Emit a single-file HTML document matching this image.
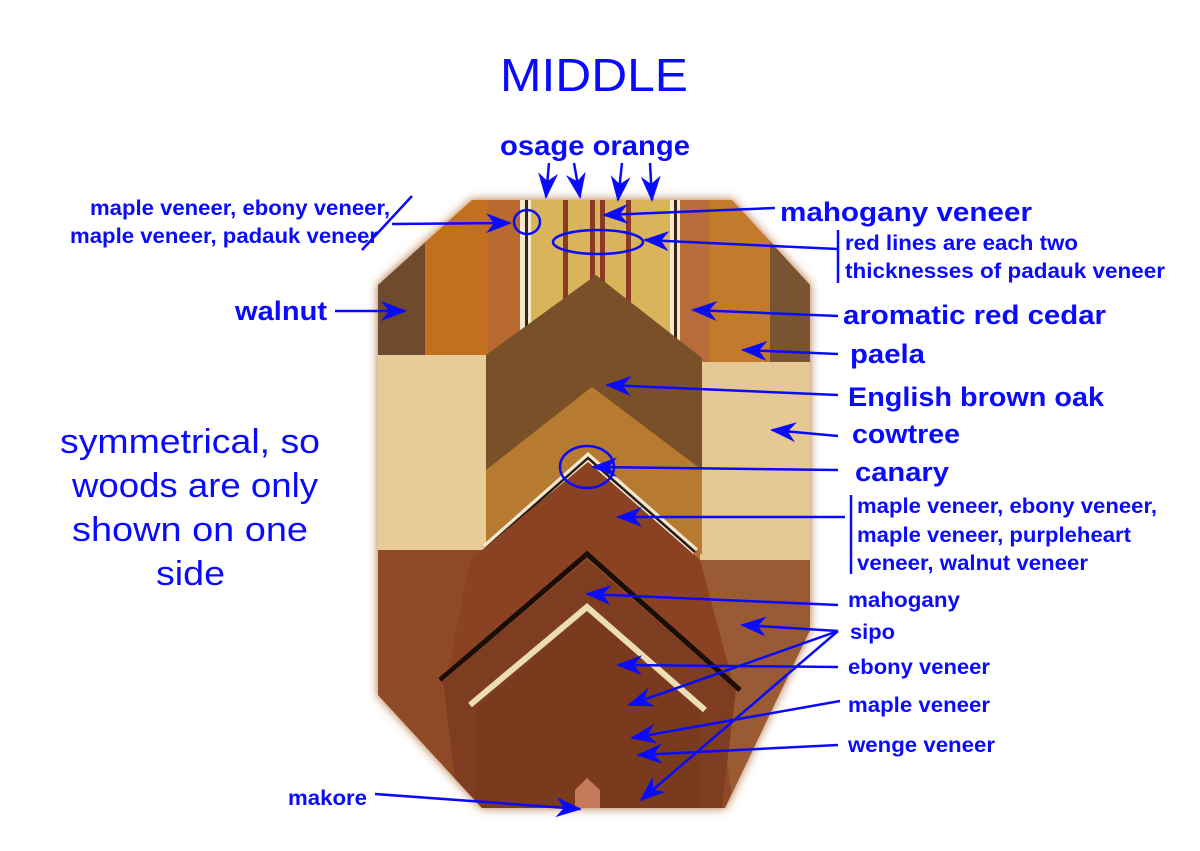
<!DOCTYPE html>
<html><head><meta charset="utf-8"><style>
html,body{margin:0;padding:0;background:#fff;}
svg{display:block}
text{font-family:"Liberation Sans",Arial,sans-serif;fill:#0a0aff;font-weight:bold;}
</style></head><body>
<svg width="1200" height="851" viewBox="0 0 1200 851" xmlns="http://www.w3.org/2000/svg">
<defs>
<clipPath id="oct"><polygon points="472,200 732,200 810,285 810,630 725,808 482,808 378,695 378,285"/></clipPath>
<filter id="bl" x="-10%" y="-10%" width="120%" height="120%"><feGaussianBlur stdDeviation="5"/></filter>
<marker id="ah2" markerWidth="26" markerHeight="20" refX="24" refY="10" orient="auto" markerUnits="userSpaceOnUse" viewBox="0 0 26 20">
<path d="M0,0 L26,10 L0,20 L8,10 Z" fill="#0a0aff"/></marker>
</defs>

<g filter="url(#bl)"><polygon points="472,200 732,200 810,285 810,630 725,808 482,808 378,695 378,285" fill="#b06a36"/></g>
<g clip-path="url(#oct)">
 <rect x="370" y="190" width="60" height="210" fill="#6e4a2e"/>
 <rect x="765" y="190" width="50" height="210" fill="#7a5330"/>
 <rect x="425" y="190" width="65" height="210" fill="#c2701e"/>
 <rect x="488" y="190" width="32" height="210" fill="#b96a30"/>
 <rect x="680" y="190" width="90" height="210" fill="#c47a2c"/>
 <rect x="680" y="190" width="30" height="210" fill="#b86c3a"/>
 <rect x="520" y="190" width="160" height="210" fill="#d9b45a"/>
 <rect x="520" y="200" width="5" height="200" fill="#f4ead0"/><rect x="525" y="200" width="3" height="200" fill="#3a2418"/><rect x="528" y="200" width="3" height="200" fill="#f4ead0"/>
 <rect x="670" y="200" width="4" height="200" fill="#f4ead0"/><rect x="674" y="200" width="3" height="200" fill="#3a2418"/><rect x="677" y="200" width="3" height="200" fill="#f4ead0"/>
 <rect x="563" y="200" width="5" height="200" fill="#8a3a22"/>
 <rect x="590" y="200" width="5" height="200" fill="#8a3a22"/><rect x="600" y="200" width="5" height="200" fill="#8a3a22"/>
 <rect x="626" y="200" width="5" height="200" fill="#8a3a22"/>
 <rect x="370" y="355" width="118" height="210" fill="#e8cc98"/>
 <rect x="700" y="362" width="115" height="210" fill="#e6c894"/>
 <polygon points="596,275 702,358 702,470 592,387 486,470 486,355" fill="#7a5028"/>
 <polygon points="592,387 702,470 702,555 588,457 486,550 486,470" fill="#b67a30"/>
 <polyline points="486,548 588,458 695,552" fill="none" stroke="#f2e8d0" stroke-width="9"/>
 <polyline points="486,548 588,458 695,552" fill="none" stroke="#2a1a12" stroke-width="2.5"/>
 <polygon points="370,550 486,550 588,462 700,560 815,560 815,820 370,820" fill="#8e4a26"/>
 <polygon points="700,560 815,560 815,820 735,820" fill="#9a5a34"/>
 <polygon points="588,462 700,560 735,690 587,556 448,672 470,560" fill="#8a4222"/>
 <polyline points="440,680 587,554 740,690" fill="none" stroke="#1a0e08" stroke-width="5"/>
 <polygon points="587,560 736,690 720,820 460,820 443,680" fill="#7e3c20"/>
 <polyline points="470,705 587,607 705,710" fill="none" stroke="#ecdcb8" stroke-width="6"/>
 <polygon points="587,612 700,712 700,820 475,820 475,710" fill="#7a3a1e"/>
 <polygon points="575,790 587,778 600,790 600,820 575,820" fill="#c47a5a"/>
</g>

<g stroke="#0a0aff" stroke-width="2.5" fill="none">
 <line x1="549" y1="163" x2="546" y2="197" marker-end="url(#ah2)"/>
 <line x1="574" y1="163" x2="580" y2="197" marker-end="url(#ah2)"/>
 <line x1="622" y1="163" x2="618" y2="200" marker-end="url(#ah2)"/>
 <line x1="650" y1="163" x2="652" y2="200" marker-end="url(#ah2)"/>
 <line x1="412" y1="196" x2="362" y2="250"/>
 <line x1="392" y1="224" x2="510" y2="223" marker-end="url(#ah2)"/>
 <ellipse cx="527" cy="222" rx="13" ry="12"/>
 <line x1="775" y1="208" x2="604" y2="215" marker-end="url(#ah2)"/>
 <ellipse cx="598" cy="242" rx="45" ry="12"/>
 <line x1="838" y1="249" x2="645" y2="240" marker-end="url(#ah2)"/>
 <line x1="838" y1="230" x2="838" y2="283"/>
 <line x1="335" y1="311" x2="405" y2="311" marker-end="url(#ah2)"/>
 <line x1="838" y1="316" x2="693" y2="310" marker-end="url(#ah2)"/>
 <line x1="838" y1="354" x2="743" y2="350" marker-end="url(#ah2)"/>
 <line x1="838" y1="395" x2="607" y2="385" marker-end="url(#ah2)"/>
 <line x1="838" y1="436" x2="772" y2="430" marker-end="url(#ah2)"/>
 <line x1="838" y1="470" x2="593" y2="467" marker-end="url(#ah2)"/>
 <ellipse cx="587" cy="467" rx="27" ry="21"/>
 <line x1="845" y1="517" x2="618" y2="517" marker-end="url(#ah2)"/>
 <line x1="851" y1="495" x2="851" y2="574"/>
 <line x1="838" y1="605" x2="587" y2="594" marker-end="url(#ah2)"/>
 <line x1="838" y1="631" x2="742" y2="625" marker-end="url(#ah2)"/>
 <line x1="838" y1="631" x2="629" y2="705" marker-end="url(#ah2)"/>
 <line x1="838" y1="631" x2="641" y2="800" marker-end="url(#ah2)"/>
 <line x1="838" y1="667" x2="618" y2="665" marker-end="url(#ah2)"/>
 <line x1="840" y1="701" x2="632" y2="738" marker-end="url(#ah2)"/>
 <line x1="838" y1="745" x2="638" y2="755" marker-end="url(#ah2)"/>
 <line x1="375" y1="794" x2="580" y2="809" marker-end="url(#ah2)"/>
</g>

<g style="font-weight:normal">
<text x="500" y="91" font-size="46" textLength="188" lengthAdjust="spacingAndGlyphs" style="font-weight:normal">MIDDLE</text>
</g>
<text x="500" y="155" font-size="28" textLength="190" lengthAdjust="spacingAndGlyphs">osage orange</text>
<text x="90" y="215" font-size="21" textLength="300" lengthAdjust="spacingAndGlyphs">maple veneer, ebony veneer,</text>
<text x="70" y="243" font-size="21" textLength="308" lengthAdjust="spacingAndGlyphs">maple veneer, padauk veneer</text>
<text x="780" y="221" font-size="27" textLength="252" lengthAdjust="spacingAndGlyphs">mahogany veneer</text>
<text x="845" y="250" font-size="21" textLength="233" lengthAdjust="spacingAndGlyphs">red lines are each two</text>
<text x="845" y="278" font-size="21" textLength="320" lengthAdjust="spacingAndGlyphs">thicknesses of padauk veneer</text>
<text x="235" y="320" font-size="27" textLength="92" lengthAdjust="spacingAndGlyphs">walnut</text>
<text x="843" y="324" font-size="27" textLength="263" lengthAdjust="spacingAndGlyphs">aromatic red cedar</text>
<text x="850" y="363" font-size="27" textLength="75" lengthAdjust="spacingAndGlyphs">paela</text>
<text x="848" y="406" font-size="27" textLength="256" lengthAdjust="spacingAndGlyphs">English brown oak</text>
<text x="852" y="443" font-size="27" textLength="108" lengthAdjust="spacingAndGlyphs">cowtree</text>
<text x="855" y="481" font-size="27" textLength="94" lengthAdjust="spacingAndGlyphs">canary</text>
<text x="857" y="513" font-size="21" textLength="300" lengthAdjust="spacingAndGlyphs">maple veneer, ebony veneer,</text>
<text x="857" y="542" font-size="21" textLength="274" lengthAdjust="spacingAndGlyphs">maple veneer, purpleheart</text>
<text x="857" y="570" font-size="21" textLength="231" lengthAdjust="spacingAndGlyphs">veneer, walnut veneer</text>
<text x="848" y="607" font-size="21" textLength="112" lengthAdjust="spacingAndGlyphs">mahogany</text>
<text x="850" y="639" font-size="21" textLength="45" lengthAdjust="spacingAndGlyphs">sipo</text>
<text x="848" y="674" font-size="21" textLength="142" lengthAdjust="spacingAndGlyphs">ebony veneer</text>
<text x="848" y="712" font-size="21" textLength="142" lengthAdjust="spacingAndGlyphs">maple veneer</text>
<text x="848" y="752" font-size="21" textLength="147" lengthAdjust="spacingAndGlyphs">wenge veneer</text>
<text x="288" y="805" font-size="21" textLength="79" lengthAdjust="spacingAndGlyphs">makore</text>
<text x="60" y="453" font-size="34" textLength="260" lengthAdjust="spacingAndGlyphs" style="font-weight:normal">symmetrical, so</text>
<text x="72" y="497" font-size="34" textLength="246" lengthAdjust="spacingAndGlyphs" style="font-weight:normal">woods are only</text>
<text x="72" y="541" font-size="34" textLength="236" lengthAdjust="spacingAndGlyphs" style="font-weight:normal">shown on one</text>
<text x="156" y="585" font-size="34" textLength="69" lengthAdjust="spacingAndGlyphs" style="font-weight:normal">side</text>
</svg>
</body></html>
